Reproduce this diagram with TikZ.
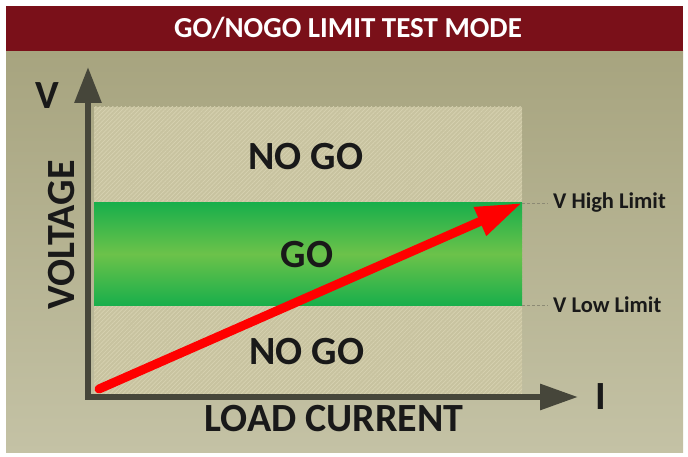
\documentclass[tikz,border=0pt]{standalone}
\usepackage{fontspec}
\setmainfont{Carlito}
\usepackage{xcolor}
\usetikzlibrary{arrows.meta,positioning,patterns.meta}

\definecolor{titlered}{HTML}{7A1019}
\definecolor{panel_top}{HTML}{A7A47F}
\definecolor{panel_bot}{HTML}{C4C2A5}
\definecolor{hatch_base}{HTML}{C8C3A0}
\definecolor{hatch_line}{HTML}{D7D2B1}
\definecolor{axisgray}{HTML}{46463A}
\definecolor{go_edge}{HTML}{19AF4B}
\definecolor{go_mid}{HTML}{6CC24A}
\definecolor{limitgray}{HTML}{8C8A74}

\begin{document}
\begin{tikzpicture}[x=1pt,y=-1pt]
	\tikzstyle{lbl_xl}
	  =[font=\fontsize{40}{40}\selectfont\bfseries, text=black!90, inner sep=0pt]
	\tikzstyle{lbl_sm}
	  =[font=\fontsize{22.5}{22.5}\selectfont\bfseries, text=black!90, inner sep=0pt]
	\tikzstyle{axis_ln}
	  =[draw=axisgray, line width=6pt,
	    {Triangle[length=36pt,width=26pt]}-{Triangle[length=38pt,width=25pt]}]
	\tikzstyle{limit_ln}
	  =[draw=limitgray, densely dashed, line width=0.6pt]

	\useasboundingbox (0,0) rectangle (688,457);

	% panel and title bar
	\fill[top color=panel_top, bottom color=panel_bot] (6,51) rectangle (683,452);
	\fill[titlered] (6,6) rectangle (683,51);
	\node[font=\fontsize{29}{29}\selectfont\bfseries, text=white] (title)
	  at (348,28) {GO/NOGO LIMIT TEST MODE};

	% zones
	\fill[hatch_base] (94,107) rectangle (522,397);
	\fill[pattern={Lines[angle=45,distance=3pt,line width=0.7pt]},
	      pattern color=hatch_line] (94,107) rectangle (522,397);
	\fill[top color=go_edge, bottom color=go_edge, middle color=go_mid]
	  (94,203) rectangle (522,305);

	\coordinate (vtip) at (88,67);
	\coordinate (corner) at (88,397);
	\coordinate (itip) at (578,397);
	\coordinate (start) at (99,389);
	\coordinate (high) at (522,203);
	\coordinate (low) at (522,305);

	\node[lbl_xl] (nogo_top)
	  at (306,157) {NO GO};
	\node[lbl_xl] (go)
	  at (307,255) {GO};
	\node[lbl_xl] (nogo_bot)
	  at (307,352) {NO GO};

	\node[lbl_xl] (vlabel)
	  at (47,96) {V};
	\node[lbl_xl,rotate=90] (voltage)
	  at (62,235) {VOLTAGE};
	\node[lbl_xl] (current)
	  at (334,419) {LOAD CURRENT};
	\node[lbl_xl] (ilabel)
	  [right=17pt of itip] {I};

	\node[lbl_sm,anchor=west] (high_lbl)
	  [right=31pt of high] {V High Limit};
	\node[lbl_sm,anchor=west] (low_lbl)
	  [right=31pt of low] {V Low Limit};

	\draw[axis_ln] (vtip)--(corner)--(itip);
	\draw[limit_ln] (high)--([xshift=-5pt]high_lbl.west);
	\draw[limit_ln] (low)--([xshift=-5pt]low_lbl.west);
	\draw[red, line width=9pt, line cap=round,
	      -{Triangle[length=46pt,width=29pt]}] (start)--(high);
\end{tikzpicture}
\end{document}
